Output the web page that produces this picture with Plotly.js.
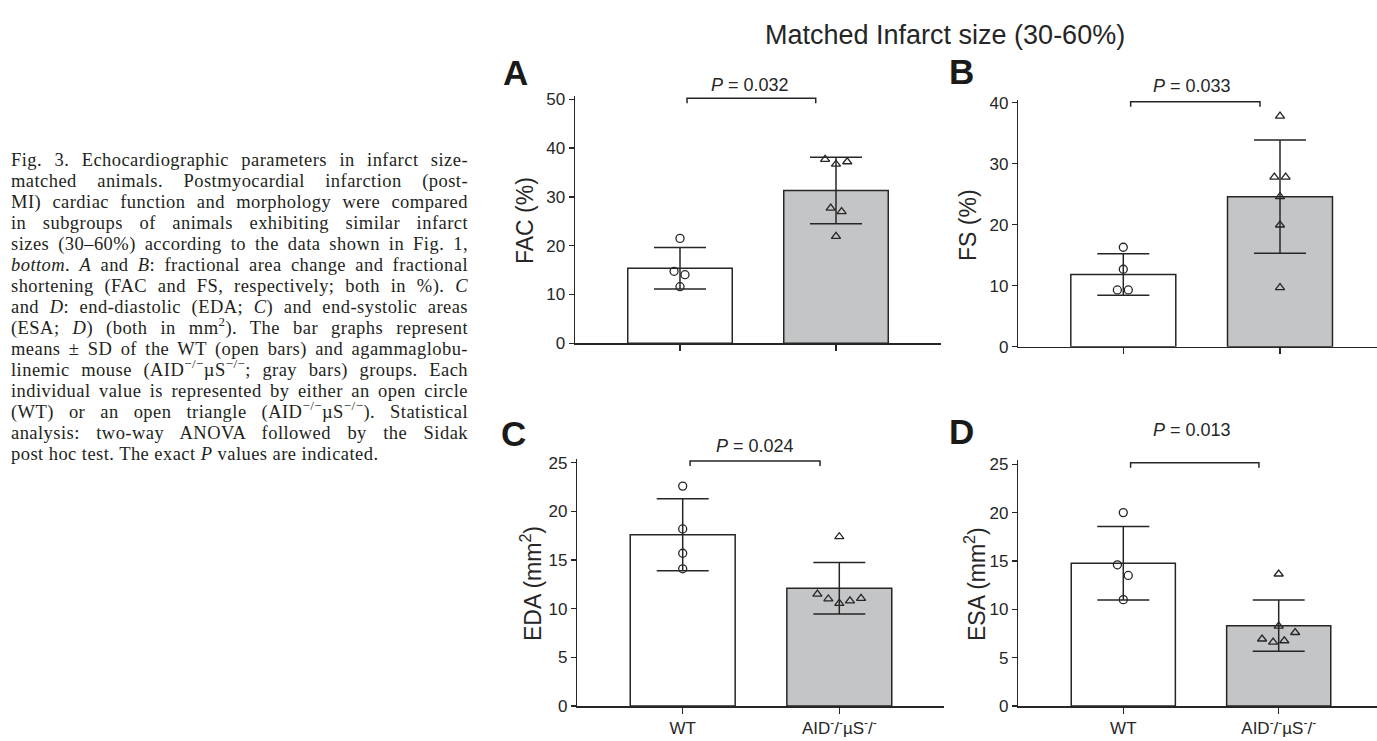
<!DOCTYPE html>
<html>
<head>
<meta charset="utf-8">
<script src="https://cdn.plot.ly/plotly-3.0.1.min.js"></script>
<style>
  html, body { margin: 0; padding: 0; background: #ffffff; }
  #chart { width: 1377px; height: 741px; }
</style>
</head>
<body>
<div id="chart"></div>
<script>
// ---------------- data ----------------
const groups = ['WT', 'AID<sup>-</sup>/<sup>-</sup>µS<sup>-</sup>/<sup>-</sup>'];
const panelLetters = ['A', 'B', 'C', 'D'];
const yTitles = ['FAC (%)', 'FS (%)', 'EDA (mm<sup>2</sup>)', 'ESA (mm<sup>2</sup>)'];
const pValues = ['0.032', '0.033', '0.024', '0.013'];
const yMaxTicks = [50, 40, 25, 25];
const yTickSteps = [10, 10, 5, 5];

// A: FAC (%)
const facMean = [15.4, 31.3];
const facSd = [4.25, 6.8];
const facWt = [21.5, 14.75, 14.06, 11.6];
const facAid = [37.7, 36.7, 37.2, 27.7, 27.0, 21.9];
// B: FS (%)
const fsMean = [11.85, 24.6];
const fsSd = [3.4, 9.3];
const fsWt = [16.3, 12.7, 9.3, 9.3];
const fsAid = [37.8, 27.8, 27.8, 24.6, 19.95, 9.7];
// C: EDA (mm2)
const edaMean = [17.6, 12.1];
const edaSd = [3.7, 2.65];
const edaWt = [22.6, 18.2, 15.7, 14.1];
const edaAid = [17.4, 11.5, 11.0, 10.55, 10.8, 11.07];
// D: ESA (mm2)
const esaMean = [14.75, 8.3];
const esaSd = [3.8, 2.65];
const esaWt = [20.0, 14.6, 13.5, 11.0];
const esaAid = [13.65, 8.27, 6.93, 6.6, 6.75, 7.6];

// horizontal scatter of the individual points (category units)
const facWtJitter = [0, -0.038, 0.032, 0];
const facAidJitter = [-0.07, 0, 0.072, -0.034, 0.036, 0];
const fsWtJitter = [0, 0, -0.038, 0.032];
const fsAidJitter = [0, -0.036, 0.036, 0, 0, 0];
const edaWtJitter = [0, 0, 0, 0];
const edaAidJitter = [0, -0.14, -0.07, 0, 0.068, 0.139];
const esaWtJitter = [0, -0.038, 0.032, 0];
const esaAidJitter = [0, 0, -0.107, -0.036, 0.036, 0.106];

const captionLines = [
  'Fig. 3. Echocardiographic parameters in infarct size-',
  'matched animals. Postmyocardial infarction (post-',
  'MI) cardiac function and morphology were compared',
  'in subgroups of animals exhibiting similar infarct',
  'sizes (30\u201360%) according to the data shown in Fig. 1,',
  '<i>bottom</i>. <i>A</i> and <i>B</i>: fractional area change and fractional',
  'shortening (FAC and FS, respectively; both in %). <i>C</i>',
  'and <i>D</i>: end-diastolic (EDA; <i>C</i>) and end-systolic areas',
  '(ESA; <i>D</i>) (both in mm<sup>2</sup>). The bar graphs represent',
  'means \u00b1 SD of the WT (open bars) and agammaglobu-',
  'linemic mouse (AID<sup>\u2212/\u2212</sup>\u00b5S<sup>\u2212/\u2212</sup>; gray bars) groups. Each',
  'individual value is represented by either an open circle',
  '(WT) or an open triangle (AID<sup>\u2212/\u2212</sup>\u00b5S<sup>\u2212/\u2212</sup>). Statistical',
  'analysis: two-way ANOVA followed by the Sidak',
  'post hoc test. The exact <i>P</i> values are indicated.'
];
const mainTitle = 'Matched Infarct size (30-60%)';

// ---------------- layout geometry (pixels) ----------------
const W = 1377, H = 741;
const INK = '#262626';
const BAR_GRAY = '#c4c5c7';
const SANS = 'Liberation Sans, Arial, sans-serif';
const SERIF = 'Liberation Serif, Times New Roman, serif';

const geom = [
  {x0: 575,    x1: 941,  c0: 680,    c1: 836,    zeroPx: 343.3, ppu: 4.88, top: 50.6,
   br: [0.045, 0.87, 50.2], pLab: [750, 85],     letter: [515, 72],  yTitle: [525, 221]},
  {x0: 1018.3, x1: 1377, c0: 1123.3, c1: 1280,   zeroPx: 346.7, ppu: 6.10, top: 40.5,
   br: [0.047, 0.872, 40.17], pLab: [1192, 86],  letter: [961, 71],  yTitle: [968, 225]},
  {x0: 577.3,  x1: 944,  c0: 682.7,  c1: 839.3,  zeroPx: 706,   ppu: 9.73, top: 25.4,
   br: [0.047, 0.877, 25.17], pLab: [755, 446],  letter: [513, 433], yTitle: [531, 584]},
  {x0: 1018.3, x1: 1377, c0: 1123.3, c1: 1278.7, zeroPx: 706,   ppu: 9.67, top: 25.4,
   br: [0.047, 0.873, 25.16], pLab: [1192, 430], letter: [961, 432], yTitle: [975, 584]}
];

const panelData = [
  {mean: facMean, sd: facSd, wt: facWt, aid: facAid, wtJ: facWtJitter, aidJ: facAidJitter},
  {mean: fsMean,  sd: fsSd,  wt: fsWt,  aid: fsAid,  wtJ: fsWtJitter,  aidJ: fsAidJitter},
  {mean: edaMean, sd: edaSd, wt: edaWt, aid: edaAid, wtJ: edaWtJitter, aidJ: edaAidJitter},
  {mean: esaMean, sd: esaSd, wt: esaWt, aid: esaAid, wtJ: esaWtJitter, aidJ: esaAidJitter}
];

const traces = [];
const layout = {
  width: W, height: H,
  margin: {l: 0, r: 0, t: 0, b: 0},
  paper_bgcolor: '#ffffff', plot_bgcolor: 'rgba(0,0,0,0)',
  showlegend: false,
  font: {family: SANS, color: INK},
  annotations: [], shapes: []
};

panelData.forEach((pd, i) => {
  const g = geom[i];
  const n = i + 1;
  const xa = 'x' + (n === 1 ? '' : n), ya = 'y' + (n === 1 ? '' : n);
  const xKey = 'xaxis' + (n === 1 ? '' : n), yKey = 'yaxis' + (n === 1 ? '' : n);
  const span = g.c1 - g.c0;
  const tickVals = [];
  for (let v = 0; v <= yMaxTicks[i] + 1e-9; v += yTickSteps[i]) tickVals.push(v);

  layout[xKey] = {
    domain: [g.x0 / W, g.x1 / W],
    range: [(g.x0 - g.c0) / span, (g.x1 - g.c0) / span],
    anchor: ya,
    showgrid: false, zeroline: false,
    showline: true, linecolor: INK, linewidth: 1.5,
    ticks: 'outside', ticklen: 6, tickwidth: 1.5, tickcolor: INK,
    tickmode: 'array', tickvals: [0, 1], ticktext: groups,
    showticklabels: i >= 2,
    tickfont: {family: SANS, size: 17, color: INK},
    fixedrange: true
  };
  layout[yKey] = {
    domain: [1 - g.zeroPx / H, 1 - (g.zeroPx - g.top * g.ppu) / H],
    range: [0, g.top],
    anchor: xa,
    showgrid: false, zeroline: false,
    showline: true, linecolor: INK, linewidth: 1.5,
    ticks: 'outside', ticklen: 5, tickwidth: 1.5, tickcolor: INK,
    tickmode: 'array', tickvals: tickVals,
    tickfont: {family: SANS, size: 17, color: INK},
    fixedrange: true
  };

  // bars with mean +/- SD
  traces.push({
    type: 'bar', x: [0, 1], y: pd.mean, xaxis: xa, yaxis: ya,
    width: 0.67,
    marker: {color: ['#ffffff', BAR_GRAY], line: {color: INK, width: 1.5}},
    error_y: {type: 'data', array: pd.sd, visible: true, color: INK, thickness: 1.5, width: 26},
    hoverinfo: 'skip'
  });
  // individual values
  traces.push({
    type: 'scatter', mode: 'markers', xaxis: xa, yaxis: ya,
    x: pd.wtJ.map(d => 0 + d), y: pd.wt, cliponaxis: false,
    marker: {symbol: 'circle-open', size: 8, color: INK, line: {width: 1.3, color: INK}},
    hoverinfo: 'skip'
  });
  traces.push({
    type: 'scatter', mode: 'markers', xaxis: xa, yaxis: ya,
    x: pd.aidJ.map(d => 1 + d), y: pd.aid, cliponaxis: false,
    marker: {symbol: 'triangle-up-open', size: 8, color: INK, line: {width: 1.3, color: INK}},
    hoverinfo: 'skip'
  });

  // significance bracket
  const legLen = 5 / g.ppu;
  const [bx0, bx1, by] = g.br;
  layout.shapes.push({
    type: 'path', xref: xa, yref: ya,
    path: `M ${bx0},${by - legLen} L ${bx0},${by} L ${bx1},${by} L ${bx1},${by - legLen}`,
    line: {color: INK, width: 1.5}
  });
  layout.annotations.push({
    xref: 'paper', yref: 'paper', x: g.pLab[0] / W, y: 1 - g.pLab[1] / H,
    xanchor: 'center', yanchor: 'middle', showarrow: false,
    text: '<i>P</i> = ' + pValues[i],
    font: {family: SANS, size: 18, color: INK}
  });
  layout.annotations.push({
    xref: 'paper', yref: 'paper', x: g.letter[0] / W, y: 1 - g.letter[1] / H,
    xanchor: 'center', yanchor: 'middle', showarrow: false,
    text: '<b>' + panelLetters[i] + '</b>',
    font: {family: SANS, size: 35, color: '#1a1a1a'}
  });
  // y-axis title
  layout.annotations.push({
    xref: 'paper', yref: 'paper', x: g.yTitle[0] / W, y: 1 - g.yTitle[1] / H,
    xanchor: 'center', yanchor: 'middle', showarrow: false, textangle: -90,
    text: yTitles[i],
    font: {family: SANS, size: 23, color: INK}
  });
});

layout.annotations.push({
  xref: 'paper', yref: 'paper', x: 945 / W, y: 1 - 35 / H,
  xanchor: 'center', yanchor: 'middle', showarrow: false,
  text: mainTitle, font: {family: SANS, size: 27, color: INK}
});

// caption: one multi-line text, justified to the column width
const CAP_LEFT = 10, CAP_RIGHT = 467, CAP_FIRST_MID = 160, CAP_STEP = 21;
const capSize = 18.5;
const capTracking = 0.45;

const captionIdx = layout.annotations.length;
layout.annotations.push({
  xref: 'paper', yref: 'paper',
  x: CAP_LEFT / W, y: 1 - (CAP_FIRST_MID + 0.33 * capSize - 0.9 * capSize) / H,
  xanchor: 'left', yanchor: 'top', align: 'left', showarrow: false,
  borderpad: 0,
  text: captionLines.join('<br>'),
  font: {family: SERIF, size: capSize, color: '#231f20'}
});

const gd = document.getElementById('chart');
Plotly.newPlot(gd, traces, layout, {staticPlot: true, displayModeBar: false}).then(() => {
  // set the caption line pitch and justify every line but the last
  const grp = gd.querySelector('.annotation[data-index="' + captionIdx + '"]');
  if (!grp) return;
  const t = grp.querySelector('text.annotation-text');
  if (!t) return;
  t.style.letterSpacing = capTracking + 'px';
  const lines = t.querySelectorAll('tspan.line');
  lines.forEach((ln, k) => {
    ln.setAttribute('dy', (k * CAP_STEP) + 'px');
    if (k === lines.length - 1) return;
    const w = ln.getComputedTextLength();
    const spaces = (ln.textContent.match(/ /g) || []).length;
    if (!spaces) return;
    ln.style.wordSpacing = ((CAP_RIGHT - CAP_LEFT - w) / spaces).toFixed(2) + 'px';
  });
});
</script>
</body>
</html>
